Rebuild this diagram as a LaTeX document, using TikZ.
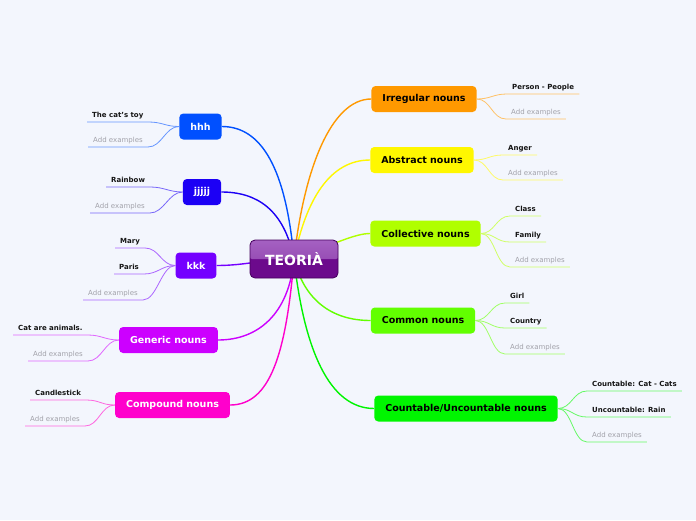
\documentclass[tikz,border=0pt]{standalone}
\usepackage{fontspec}
\setmainfont{DejaVu Sans}
\usetikzlibrary{positioning,backgrounds}
\definecolor{paper}     {HTML}{F3F6FD}
\definecolor{leafink}   {HTML}{151515}
\definecolor{addgray}   {HTML}{A2A2AA}
\definecolor{teotop}    {HTML}{A764C4}
\definecolor{teomid}    {HTML}{8A3AA8}
\definecolor{teobot}    {HTML}{6C0A8C}
\definecolor{teoedge}   {HTML}{45005C}
\definecolor{irregular} {HTML}{FF9900}
\definecolor{abstract}  {HTML}{FFF700}
\definecolor{collective}{HTML}{B0FF00}
\definecolor{common}    {HTML}{62FF00}
\definecolor{countable} {HTML}{00F500}
\definecolor{hhhcol}    {HTML}{0050FF}
\definecolor{jjjcol}    {HTML}{1C00F5}
\definecolor{kkkcol}    {HTML}{7400FF}
\definecolor{generic}   {HTML}{CC00FF}
\definecolor{compound}  {HTML}{FF00CC}
\tikzset{
  teo/.style    ={rounded corners=5pt, draw=teoedge, line width=0.8pt, fill=teobot,
                  minimum width=88pt, minimum height=38pt,
                  font=\fontsize{14}{16}\selectfont\bfseries, text=white,
                  path picture={
                    \shade[top color=teotop, bottom color=teomid]
                      ([shift={(-3pt,3pt)}]path picture bounding box.north west)
                      rectangle ([shift={(3pt,0pt)}]path picture bounding box.east);}},
  topic/.style  ={rounded corners=4pt, minimum height=26pt, inner xsep=11pt, inner ysep=0pt,
                  font=\fontsize{9.5}{11}\selectfont\bfseries},
  rtopic/.style ={topic, fill=#1, text=black},
  ltopic/.style ={topic, fill=#1, text=white},
  leaf/.style   ={inner xsep=5pt, inner ysep=2.5pt, text height=5.2pt, text depth=1.6pt,
                  font=\fontsize{7}{8}\selectfont\bfseries, text=leafink},
  addex/.style  ={leaf, font=\fontsize{7}{8}\selectfont, text=addgray},
  branch/.style ={line width=1.4pt, draw=#1},
  twig/.style   ={line width=0.8pt, draw=#1!60},
}

\begin{document}
\begin{tikzpicture}[x=1pt,y=-1pt]
  \useasboundingbox (0,0) rectangle (696,520);

  % centre and topics
  \node[teo] (teo) at (294,259) {TEORIÀ};
  \node[rtopic=irregular]  (irr) at (424,99)    {Irregular nouns};
  \node[rtopic=abstract]   (abs) at (422,160)   {Abstract nouns};
  \node[rtopic=collective] (col) at (425.5,233.5) {Collective nouns};
  \node[rtopic=common]     (com) at (423,320.5) {Common nouns};
  \node[rtopic=countable]  (cnt) at (466,408.5) {Countable/Uncountable nouns};
  \node[ltopic=hhhcol]     (hhh) at (200.5,126.5) {hhh};
  \node[ltopic=jjjcol]     (jjj) at (202,192)   {jjjjj};
  \node[ltopic=kkkcol]     (kkk) at (196,265.5) {kkk};
  \node[ltopic=generic]    (gen) at (168.5,340) {Generic nouns};
  \node[ltopic=compound]   (cmp) at (172.5,405) {Compound nouns};

  % examples, right side
  \node[leaf,anchor=south west]  (irr1) at (507,94)  {Person - People};
  \node[addex,anchor=south west] (irr2) at (506,119) {Add examples};
  \node[leaf,anchor=south west]  (abs1) at (503,155) {Anger};
  \node[addex,anchor=south west] (abs2) at (503,180) {Add examples};
  \node[leaf,anchor=south west]  (col1) at (510,216) {Class};
  \node[leaf,anchor=south west]  (col2) at (510,242) {Family};
  \node[addex,anchor=south west] (col3) at (510,267) {Add examples};
  \node[leaf,anchor=south west]  (com1) at (505,303) {Girl};
  \node[leaf,anchor=south west]  (com2) at (505,328) {Country};
  \node[addex,anchor=south west] (com3) at (505,354) {Add examples};
  \node[leaf,anchor=south west]  (cnt1) at (587,391) {Countable: Cat - Cats};
  \node[leaf,anchor=south west]  (cnt2) at (587,417) {Uncountable: Rain};
  \node[addex,anchor=south west] (cnt3) at (587,442) {Add examples};

  % examples, left side
  \node[leaf,anchor=south west]  (hhh1) at (87,122)  {The cat's toy};
  \node[addex,anchor=south west] (hhh2) at (88,147)  {Add examples};
  \node[leaf,anchor=south west]  (jjj1) at (106,187) {Rainbow};
  \node[addex,anchor=south west] (jjj2) at (90,213)  {Add examples};
  \node[leaf,anchor=south west]  (kkk1) at (115,248) {Mary};
  \node[leaf,anchor=south west]  (kkk2) at (114,274) {Paris};
  \node[addex,anchor=south west] (kkk3) at (83,300)  {Add examples};
  \node[leaf,anchor=south west]  (gen1) at (13,335)  {Cat are animals.};
  \node[addex,anchor=south west] (gen2) at (28,361)  {Add examples};
  \node[leaf,anchor=south west]  (cmp1) at (30,400)  {Candlestick};
  \node[addex,anchor=south west] (cmp2) at (25,426)  {Add examples};

  % twigs
  \foreach \t/\p/\c in {irr1/irr/irregular, irr2/irr/irregular, abs1/abs/abstract, abs2/abs/abstract,
                        col1/col/collective, col2/col/collective, col3/col/collective,
                        com1/com/common, com2/com/common, com3/com/common,
                        cnt1/cnt/countable, cnt2/cnt/countable, cnt3/cnt/countable}
    \draw[twig=\c] (\p.east) .. controls +(14,0) and +(-14,0) .. (\t.south west) -- (\t.south east);
  \foreach \t/\p/\c in {hhh1/hhh/hhhcol, hhh2/hhh/hhhcol, jjj1/jjj/jjjcol, jjj2/jjj/jjjcol,
                        kkk1/kkk/kkkcol, kkk2/kkk/kkkcol, kkk3/kkk/kkkcol,
                        gen1/gen/generic, gen2/gen/generic, cmp1/cmp/compound, cmp2/cmp/compound}
    \draw[twig=\c] (\t.south west) -- (\t.south east) .. controls +(14,0) and +(-14,0) .. (\p.west);

  % paper and branches behind the nodes
  \begin{scope}[on background layer]
    \fill[paper] (0,0) rectangle (696,520);
    \draw[branch=irregular]  (teo.center) .. controls +(10,-90) and +(-40,0) .. (irr.west);
    \draw[branch=abstract]   (teo.center) .. controls +(12,-60) and +(-40,0) .. (abs.west);
    \draw[branch=collective] (teo.center) .. controls +(40,-15) and +(-15,0) .. (col.west);
    \draw[branch=common]     (teo.center) .. controls +(10,40)  and +(-40,0) .. (com.west);
    \draw[branch=countable]  (teo.center) .. controls +(10,90)  and +(-45,0) .. (cnt.west);
    \draw[branch=hhhcol]     (teo.center) .. controls +(-8,-90) and +(40,0)  .. (hhh.east);
    \draw[branch=jjjcol]     (teo.center) .. controls +(-10,-50) and +(35,0) .. (jjj.east);
    \draw[branch=kkkcol]     (teo.center) .. controls +(-30,0)  and +(30,0)  .. (kkk.east);
    \draw[branch=generic]    (teo.center) .. controls +(-5,55)  and +(40,0)  .. (gen.east);
    \draw[branch=compound]   (teo.center) .. controls +(-8,95)  and +(40,0)  .. (cmp.east);
  \end{scope}
\end{tikzpicture}
\end{document}
